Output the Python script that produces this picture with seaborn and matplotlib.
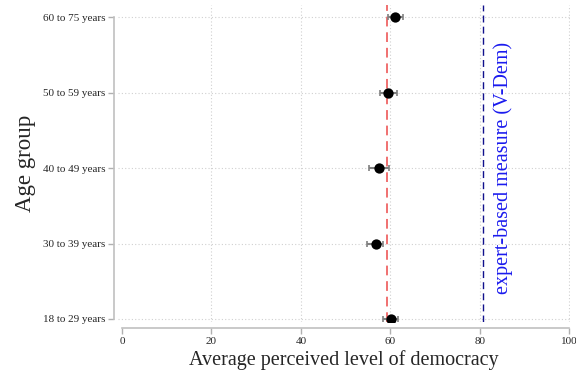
import numpy as np
import pandas as pd
import seaborn as sns
import matplotlib
matplotlib.use("Agg")
import matplotlib.pyplot as plt

# values
age_groups = ["18 to 29 years", "30 to 39 years", "40 to 49 years", "50 to 59 years", "60 to 75 years"]
mean_score = [60.1, 56.7, 57.5, 59.6, 61.1]
ci_low = [58.3, 54.7, 55.3, 57.6, 59.6]
ci_high = [61.8, 58.4, 59.7, 61.6, 62.8]
overall_mean = 59.3
vdem_score = 80.8

df = pd.DataFrame({"group": age_groups, "mean": mean_score, "lo": ci_low, "hi": ci_high})
df["pos"] = np.arange(len(df))

sns.set_style("white")
plt.rcParams["font.family"] = ["Liberation Serif", "DejaVu Serif"]

fig = plt.figure(figsize=(5.76, 3.76), dpi=100)
ax = fig.add_axes([118 / 576, 54 / 376, 452 / 576, 317 / 376])

# grid
for p in df["pos"]:
    ax.axhline(p, color="#d0d0d0", lw=0.8, ls=(0, (1, 2)), zorder=0)
for x in [20, 40, 60, 80, 100]:
    ax.axvline(x, color="#d0d0d0", lw=0.8, ls=(0, (1, 2)), zorder=0)

ax.axvline(overall_mean, color="#f07070", lw=1.4, ls=(0, (5, 3)), zorder=1)
ax.axvline(vdem_score, color="#10108c", lw=1.0, ls=(0, (5, 3)), zorder=1)

ax.errorbar(df["mean"], df["pos"],
            xerr=[df["mean"] - df["lo"], df["hi"] - df["mean"]],
            fmt="none", ecolor="#808080", elinewidth=1.5, capsize=2.5, capthick=1.2, zorder=2)
sns.scatterplot(data=df, x="mean", y="pos", color="black", s=55, edgecolor="black",
                linewidth=0, zorder=3, ax=ax)

ax.text(85.2, 2.0, "expert-based measure (V-Dem)", rotation=90, color="#1a1aee",
        fontsize=14.5, ha="center", va="center")

ax.set_xlim(-0.9, 100.2)
ax.set_ylim(-0.04, 4.16)
ax.set_xticks([0, 20, 40, 60, 80, 100])
ax.set_yticks(df["pos"])
ax.set_yticklabels(age_groups)
ax.tick_params(axis="both", bottom=True, left=True, labelsize=8, length=4, width=1,
               color="#b0b0b0", pad=2)

for s in ["top", "right"]:
    ax.spines[s].set_visible(False)
ax.spines["left"].set_bounds(0, 4)
ax.spines["left"].set_position(("outward", 3))
ax.spines["bottom"].set_bounds(0, 100)
ax.spines["bottom"].set_position(("outward", 4.5))
for s in ["left", "bottom"]:
    ax.spines[s].set_color("#c0c0c0")
    ax.spines[s].set_linewidth(1.2)

ax.set_xlabel("Average perceived level of democracy", fontsize=14.5, labelpad=3)
ax.set_ylabel("Age group", fontsize=16.5, labelpad=5)

fig.savefig("out.png", dpi=100)
